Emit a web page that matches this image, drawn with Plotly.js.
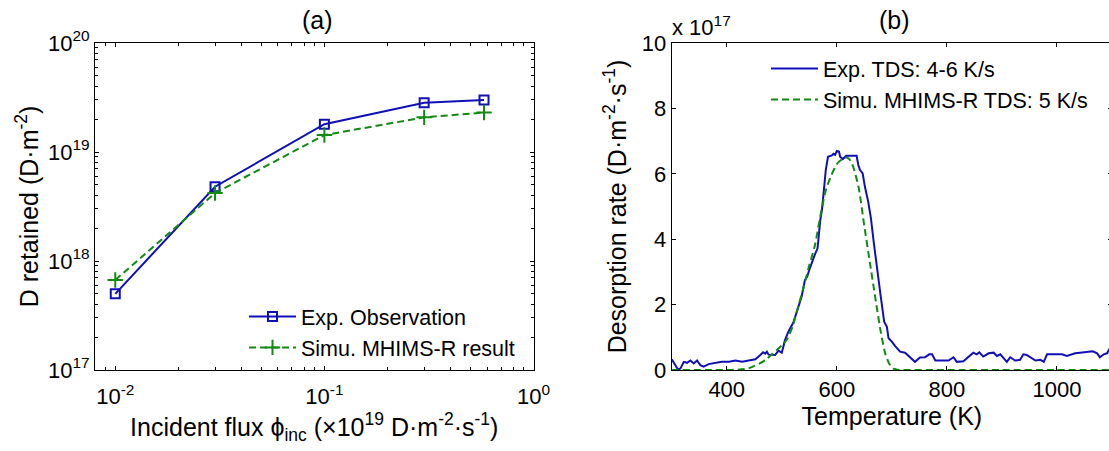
<!DOCTYPE html>
<html>
<head>
<meta charset="utf-8">
<script src="https://cdn.plot.ly/plotly-3.0.1.min.js"></script>
<style>
html,body{margin:0;padding:0;overflow:hidden;background:#fff;}
#chart{width:1114px;height:451px;}
</style>
</head>
<body>
<div id="chart"></div>
<script>
// ---- Panel (a): D retained vs incident flux ----
const fluxInc = [0.01, 0.03, 0.1, 0.3, 0.58];
const expRetained = [5.0e17, 4.8e18, 1.8e19, 2.83e19, 3.0e19];
const simRetained = [6.7e17, 4.2e18, 1.43e19, 2.08e19, 2.3e19];

const fluxTickVals = [0.01, 0.1, 1];
const fluxTickText = ['10<sup>-2</sup>', '10<sup>-1</sup>', '10<sup>0</sup>'];
const retTickVals = [1e17, 1e18, 1e19, 1e20];
const retTickText = ['10<sup>17</sup>', '10<sup>18</sup>', '10<sup>19</sup>', '10<sup>20</sup>'];

// ---- Panel (b): TDS spectra (desorption rate in units of 1e17 D m^-2 s^-1) ----
const expT = [300, 305, 312, 316, 322, 328, 334, 340, 346, 352, 358, 367, 379, 391, 404, 416, 428, 440, 452, 461, 466, 470, 473, 476, 488, 494, 500, 506, 512, 521, 530, 536, 542, 546, 551, 557, 561, 565, 567, 570, 573, 576, 580, 584, 591, 594, 597, 600, 604, 606, 611, 617, 624, 630, 636, 639, 642, 647, 651, 657, 662, 667, 673, 679, 684, 686, 691, 694, 700, 706, 715, 724, 733, 742, 751, 760, 768, 773, 779, 791, 803, 812, 818, 830, 839, 848, 854, 859, 866, 876, 885, 891, 897, 904, 909, 915, 924, 933, 939, 945, 951, 961, 970, 976, 982, 994, 1009, 1018, 1033, 1042, 1054, 1065, 1073, 1078, 1085, 1091, 1096, 1100];
const expRate = [0.33, 0.2, 0.0, 0.05, 0.25, 0.22, 0.29, 0.2, 0.29, 0.15, 0.1, 0.18, 0.22, 0.25, 0.25, 0.29, 0.25, 0.30, 0.33, 0.46, 0.54, 0.5, 0.56, 0.47, 0.46, 0.59, 0.53, 0.92, 1.17, 1.45, 1.89, 2.24, 2.75, 2.85, 3.11, 3.42, 3.57, 3.72, 4.08, 4.59, 4.89, 5.4, 6.12, 6.52, 6.56, 6.61, 6.58, 6.70, 6.68, 6.52, 6.45, 6.55, 6.55, 6.54, 6.55, 6.27, 6.12, 6.01, 5.61, 5.15, 4.64, 3.92, 3.06, 2.35, 1.73, 1.48, 1.32, 0.97, 0.87, 0.73, 0.56, 0.53, 0.39, 0.25, 0.38, 0.39, 0.48, 0.48, 0.29, 0.29, 0.29, 0.39, 0.25, 0.27, 0.41, 0.53, 0.48, 0.54, 0.41, 0.51, 0.53, 0.43, 0.48, 0.36, 0.25, 0.39, 0.29, 0.31, 0.48, 0.46, 0.39, 0.29, 0.31, 0.25, 0.48, 0.48, 0.48, 0.43, 0.51, 0.53, 0.54, 0.57, 0.51, 0.39, 0.48, 0.51, 0.66, 0.7];
const simT = [300, 400, 420, 440, 460, 470, 480, 490, 500, 510, 520, 530, 540, 550, 560, 570, 580, 590, 600, 610, 618, 625, 632, 640, 650, 660, 670, 680, 688, 695, 702, 710, 720, 800, 900, 1000, 1100];
const simRate = [0, 0, 0.01, 0.05, 0.2, 0.3, 0.45, 0.6, 0.75, 0.95, 1.35, 1.95, 2.55, 3.2, 3.8, 4.7, 5.5, 5.95, 6.3, 6.45, 6.5, 6.4, 6.1, 5.55, 4.4, 3.3, 2.2, 1.15, 0.5, 0.2, 0.05, 0.01, 0, 0, 0, 0, 0];

const BLUE = '#1010b8';
const GREEN = '#128a12';
const FONT = 'Liberation Sans, Arial, Helvetica, sans-serif';

// minor tick positions for log axes
const fluxMinor = [];
[0.001, 0.01, 0.1].forEach(d => { for (let k = 2; k <= 9; k++) { const v = k * d; if (v >= 0.008 && v < 1) fluxMinor.push(v); } });
const retMinor = [];
[1e17, 1e18, 1e19].forEach(d => { for (let k = 2; k <= 9; k++) retMinor.push(k * d); });

const traces = [
  {x: fluxInc, y: expRetained, xaxis: 'x', yaxis: 'y', name: 'Exp. Observation', mode: 'lines+markers',
   line: {color: BLUE, width: 2}, marker: {symbol: 'square-open', size: 9, color: BLUE, line: {width: 2, color: BLUE}}, legend: 'legend'},
  {x: fluxInc, y: simRetained, xaxis: 'x', yaxis: 'y', name: 'Simu. MHIMS-R result', mode: 'lines+markers',
   line: {color: GREEN, width: 2, dash: '7px,4px'}, marker: {symbol: 'cross-thin-open', size: 11, color: GREEN, line: {width: 2, color: GREEN}}, legend: 'legend'},
  {x: expT, y: expRate, xaxis: 'x2', yaxis: 'y2', name: 'Exp. TDS: 4-6 K/s', mode: 'lines',
   line: {color: BLUE, width: 2}, legend: 'legend2'},
  {x: simT, y: simRate, xaxis: 'x2', yaxis: 'y2', name: 'Simu. MHIMS-R TDS: 5 K/s', mode: 'lines',
   line: {color: GREEN, width: 2, dash: '7px,4px', shape: 'spline', smoothing: 0.6}, legend: 'legend2'}
];

const axBase = {
  showline: true, linecolor: '#000', linewidth: 1, mirror: 'allticks', ticks: 'inside',
  ticklen: 4, tickcolor: '#000', showgrid: false, zeroline: false,
  tickfont: {family: FONT, size: 22, color: '#000'}
};

const W = 1114, H = 451;
const M = {l: 95, r: 2, t: 43, b: 81};
const PW = W - M.l - M.r, PH = H - M.t - M.b;
const px = v => (v - M.l) / PW;
const py = v => (H - M.b - v) / PH;

const layout = {
  width: W, height: H, margin: M, showlegend: true,
  paper_bgcolor: '#fff', plot_bgcolor: '#fff',
  font: {family: FONT, color: '#000'},
  xaxis: Object.assign({}, axBase, {
    domain: [0, px(533.5)], type: 'log', range: [Math.log10(0.008), 0],
    tickmode: 'array', tickvals: fluxTickVals, ticktext: fluxTickText, ticklabelstandoff: 7,
    minor: {ticks: 'inside', ticklen: 3, tickcolor: '#000', tickmode: 'array', tickvals: fluxMinor, showgrid: false},
    title: {text: 'Incident flux \u03d5<sub>inc</sub> (\u00d710<sup>19</sup> D\u00b7m<sup>-2</sup>\u00b7s<sup>-1</sup>)', font: {family: FONT, size: 25, color: '#000'}, standoff: 2}
  }),
  yaxis: Object.assign({}, axBase, {
    domain: [0, 1], type: 'log', range: [17, 20], anchor: 'x',
    tickmode: 'array', tickvals: retTickVals, ticktext: retTickText,
    minor: {ticks: 'inside', ticklen: 3, tickcolor: '#000', tickmode: 'array', tickvals: retMinor, showgrid: false},
    title: {text: 'D retained (D\u00b7m<sup>-2</sup>)', font: {family: FONT, size: 25, color: '#000'}, standoff: 2}
  }),
  xaxis2: Object.assign({}, axBase, {
    domain: [px(671.7), 1], range: [300, 1100], anchor: 'y2',
    tickmode: 'array', tickvals: [400, 600, 800, 1000],
    title: {text: 'Temperature (K)', font: {family: FONT, size: 25, color: '#000'}, standoff: 6}
  }),
  yaxis2: Object.assign({}, axBase, {
    domain: [0, 1], range: [0, 10], anchor: 'x2',
    tickmode: 'array', tickvals: [0, 2, 4, 6, 8, 10],
    title: {text: 'Desorption rate (D\u00b7m<sup>-2</sup>\u00b7s<sup>-1</sup>)', font: {family: FONT, size: 25, color: '#000'}, standoff: 8}
  }),
  legend: {x: px(244), y: py(296), xanchor: 'left', yanchor: 'top', bgcolor: 'rgba(0,0,0,0)',
    font: {family: FONT, size: 21.5, color: '#000'}, itemwidth: 47, tracegroupgap: 0},
  legend2: {x: px(766), y: py(48), xanchor: 'left', yanchor: 'top', bgcolor: 'rgba(0,0,0,0)',
    font: {family: FONT, size: 21.5, color: '#000'}, itemwidth: 47, tracegroupgap: 0},
  annotations: [
    {text: '(a)', xref: 'paper', yref: 'paper', x: px(317), y: py(20), xanchor: 'center', yanchor: 'middle', showarrow: false, font: {family: FONT, size: 25, color: '#000'}},
    {text: '(b)', xref: 'paper', yref: 'paper', x: px(894), y: py(20), xanchor: 'center', yanchor: 'middle', showarrow: false, font: {family: FONT, size: 25, color: '#000'}},
    {text: 'x 10<sup>17</sup>', xref: 'paper', yref: 'paper', x: px(670), y: py(26), xanchor: 'left', yanchor: 'middle', showarrow: false, font: {family: FONT, size: 22, color: '#000'}}
  ]
};

Plotly.newPlot('chart', traces, layout, {displayModeBar: false, staticPlot: true});
</script>
</body>
</html>
